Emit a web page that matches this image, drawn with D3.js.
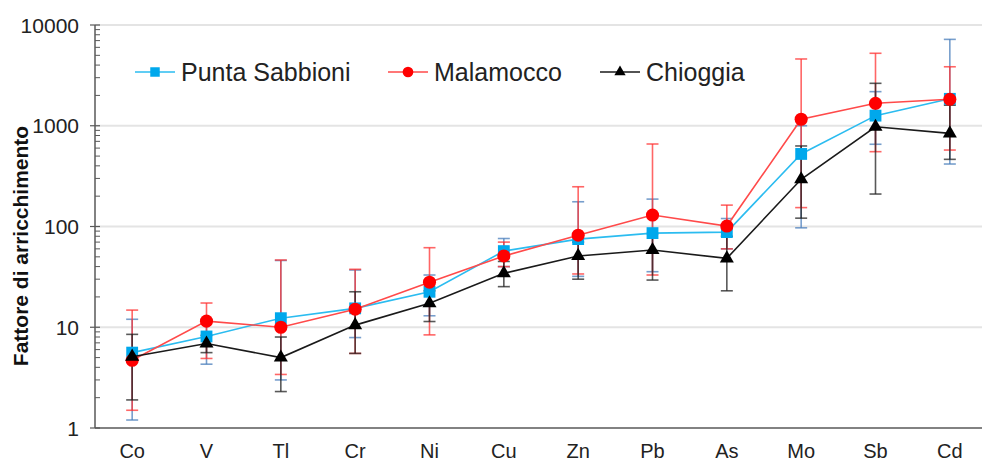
<!DOCTYPE html>
<html>
<head>
<meta charset="utf-8">
<script src="https://cdn.jsdelivr.net/npm/d3@7"></script>
<style>
  html, body { margin: 0; padding: 0; background: #fff; }
  svg { display: block; font-family: "Liberation Sans", Arial, sans-serif; }
</style>
</head>
<body>
<svg id="chart" width="982" height="462"></svg>
<script>
const categories = ["Co", "V", "Tl", "Cr", "Ni", "Cu", "Zn", "Pb", "As", "Mo", "Sb", "Cd"];

const puntaMean = [5.6, 8.1, 12.3, 15.4, 22.5, 57, 75, 86, 88, 525, 1260, 1850];
const puntaHigh = [12, 11.9, 46, 37, 33, 76, 176, 187, 120, 1000, 2180, 7200];
const puntaLow  = [1.2, 4.3, 3.0, 7.9, 13, 40, 32, 35.6, 60, 97, 655, 417];

const malaMean = [4.7, 11.5, 10, 15.1, 28, 51, 82, 130, 101, 1160, 1670, 1830];
const malaHigh = [14.8, 17.4, 46.5, 37.6, 61.6, 70, 248, 659, 163, 4600, 5240, 3850];
const malaLow  = [1.5, 4.9, 3.4, 5.5, 8.4, 40, 33.8, 33, 60, 154, 553, 574];

const chioMean = [5.1, 6.9, 5.0, 10.5, 17.3, 34.3, 51, 58.4, 48.3, 294, 977, 840];
const chioHigh = [8.5, 8.3, 8, 22.5, 23, 45, 70, 85, 80, 630, 2637, 1600];
const chioLow  = [1.9, 5.6, 2.3, 5.5, 11.4, 25.3, 30, 29.4, 23, 121, 210, 464];

const yTicks = [1, 10, 100, 1000, 10000];

const series = [
  { name: "Punta Sabbioni", mean: puntaMean, high: puntaHigh, low: puntaLow,
    line: "#2bbcf0", fill: "#00a8ec", err: "#4a7ebb", symbol: d3.symbolSquare, size: 140, legSize: 90 },
  { name: "Malamocco", mean: malaMean, high: malaHigh, low: malaLow,
    line: "#ff4a4a", fill: "#ff0000", err: "#ff3333", symbol: d3.symbolCircle, size: 135, legSize: 90 },
  { name: "Chioggia", mean: chioMean, high: chioHigh, low: chioLow,
    line: "#1a1a1a", fill: "#000000", err: "#222222", symbol: d3.symbolTriangle, size: 85, legSize: 55 }
];

const svg = d3.select("#chart");
const plotLeft = 95, plotRight = 987, plotTop = 25, plotBottom = 428;

const x = d3.scalePoint().domain(categories).range([plotLeft, plotRight]).padding(0.5);
const y = d3.scaleLog().domain([1, 10000]).range([plotBottom, plotTop]);

// gridlines
svg.append("g")
  .selectAll("line")
  .data(yTicks.slice(1))
  .join("line")
  .attr("x1", plotLeft).attr("x2", 982)
  .attr("y1", d => y(d)).attr("y2", d => y(d))
  .attr("stroke", "#e4e4e4")
  .attr("stroke-width", 2);

// y axis
const minor = [];
for (let p = 1; p < 10000; p *= 10) for (let k = 2; k < 10; k++) minor.push(p * k);

const yAxis = svg.append("g");
yAxis.append("line")
  .attr("x1", plotLeft).attr("x2", plotLeft).attr("y1", plotTop).attr("y2", plotBottom)
  .attr("stroke", "#595959").attr("stroke-width", 1.5);
yAxis.selectAll(".minor")
  .data(minor)
  .join("line")
  .attr("class", "minor")
  .attr("x1", plotLeft).attr("x2", plotLeft + 5)
  .attr("y1", d => y(d)).attr("y2", d => y(d))
  .attr("stroke", "#595959");
yAxis.selectAll(".major")
  .data(yTicks)
  .join("line")
  .attr("class", "major")
  .attr("x1", plotLeft - 5).attr("x2", plotLeft + 5)
  .attr("y1", d => y(d)).attr("y2", d => y(d))
  .attr("stroke", "#595959").attr("stroke-width", 1.2);
yAxis.selectAll("text")
  .data(yTicks)
  .join("text")
  .attr("x", plotLeft - 16)
  .attr("y", d => y(d))
  .attr("dy", "0.36em")
  .attr("text-anchor", "end")
  .attr("fill", "#222")
  .style("font-size", "21px")
  .text(d => d);

// x axis
svg.append("line")
  .attr("x1", plotLeft).attr("x2", 982).attr("y1", plotBottom).attr("y2", plotBottom)
  .attr("stroke", "#595959").attr("stroke-width", 1.5);
svg.append("g")
  .selectAll("text")
  .data(categories)
  .join("text")
  .attr("x", d => x(d))
  .attr("y", 458)
  .attr("text-anchor", "middle")
  .attr("fill", "#222")
  .style("font-size", "20px")
  .text(d => d);

// y title
svg.append("text")
  .attr("transform", "translate(28,246) rotate(-90)")
  .attr("text-anchor", "middle")
  .attr("fill", "#111")
  .style("font-size", "21px")
  .style("font-weight", "bold")
  .text("Fattore di arricchimento");

// error bars
series.forEach(s => {
  const g = svg.append("g")
    .attr("stroke", s.err)
    .attr("stroke-width", 1.6)
    .attr("stroke-opacity", 0.75);
  categories.forEach((c, i) => {
    const cx = x(c);
    g.append("line").attr("x1", cx).attr("x2", cx)
      .attr("y1", y(s.high[i])).attr("y2", y(s.low[i]));
    [s.high[i], s.low[i]].forEach(v => {
      g.append("line").attr("x1", cx - 6).attr("x2", cx + 6)
        .attr("y1", y(v)).attr("y2", y(v));
    });
  });
});

// lines and markers
const line = d3.line().x((d, i) => x(categories[i])).y(d => y(d));
series.forEach(s => {
  svg.append("path")
    .attr("d", line(s.mean))
    .attr("fill", "none")
    .attr("stroke", s.line)
    .attr("stroke-width", 1.6);
  svg.append("g")
    .selectAll("path")
    .data(s.mean)
    .join("path")
    .attr("transform", (d, i) => `translate(${x(categories[i])},${y(d)})`)
    .attr("d", d3.symbol().type(s.symbol).size(s.size))
    .attr("fill", s.fill);
});

// legend
const legendX = [135, 388, 600];
const legend = svg.append("g")
  .selectAll("g")
  .data(series)
  .join("g")
  .attr("transform", (d, i) => `translate(${legendX[i]},72)`);
legend.append("line")
  .attr("x1", 0).attr("x2", 40)
  .attr("stroke", d => d.line).attr("stroke-width", 1.6);
legend.append("path")
  .attr("transform", "translate(20,0)")
  .attr("d", d => d3.symbol().type(d.symbol).size(d.legSize)())
  .attr("fill", d => d.fill);
legend.append("text")
  .attr("x", 46)
  .attr("dy", "0.36em")
  .attr("fill", "#222")
  .style("font-size", "25px")
  .text(d => d.name);
</script>
</body>
</html>
